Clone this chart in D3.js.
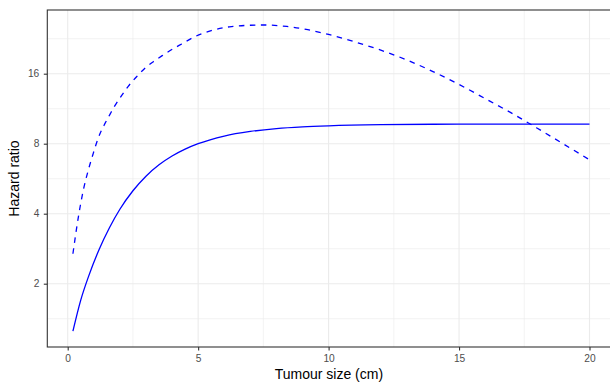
<!DOCTYPE html>
<html><head><meta charset="utf-8">
<script src="https://cdn.jsdelivr.net/npm/d3@7"></script>
<style>
body{margin:0;background:#fff}
text{font-family:"Liberation Sans",Arial,Helvetica,sans-serif}
</style>
</head><body><svg id="c" width="610" height="383"></svg>
<script>
// ---- data ----
const solidX  = [0.2, 0.5, 0.8, 1.2, 1.6, 2.0, 2.5, 3.0, 3.5, 4.0, 4.5, 5.0, 6, 7, 8, 9, 10, 12, 14, 16, 18, 20];
const solidHR = [1.25, 1.70, 2.15, 2.80, 3.48, 4.18, 5.02, 5.80, 6.49, 7.08, 7.58, 8.0, 8.63, 9.03, 9.29, 9.45, 9.55, 9.66, 9.70, 9.71, 9.72, 9.72];

const dashedX  = [0.2, 0.41, 0.6, 0.79, 0.98, 1.17, 1.43, 1.62, 1.81, 2.07, 2.32, 2.64, 2.96, 3.28, 3.66, 3.99, 4.37, 4.88, 5.5, 6.2, 7.0, 7.5, 8.4, 9.2, 10, 11, 12, 13, 14, 15, 16, 17, 18, 19, 20];
const dashedHR = [2.69, 3.88, 5.06, 6.16, 7.27, 8.46, 9.78, 10.70, 11.67, 12.90, 14.12, 15.53, 16.88, 18.01, 19.25, 20.32, 21.48, 23.1, 24.5, 25.46, 25.85, 25.92, 25.54, 24.73, 23.59, 21.93, 20.2, 18.33, 16.34, 14.38, 12.51, 10.85, 9.32, 7.98, 6.82];

const xTicks = [0, 5, 10, 15, 20];
const xMinor = [2.5, 7.5, 12.5, 17.5];
const yTicks = [2, 4, 8, 16];
const yMinor = [Math.SQRT2, 2 * Math.SQRT2, 4 * Math.SQRT2, 8 * Math.SQRT2, 16 * Math.SQRT2];

const xTitle = "Tumour size (cm)";
const yTitle = "Hazard ratio";

// ---- layout ----
const svg = d3.select("#c");
const P = {left: 47.3, right: 611.5, top: 10, bottom: 347};

const x = d3.scaleLinear().domain([0, 20]).range([67.7, 589.5]);
const y = d3.scaleLog().base(2).domain([2, 16]).range([283.7, 73.7]);

svg.append("rect").attr("width", 610).attr("height", 383).attr("fill", "#fff");

const grid = svg.append("g");
grid.selectAll(".xm").data(xMinor).join("line")
  .attr("x1", d => x(d)).attr("x2", d => x(d)).attr("y1", P.top).attr("y2", P.bottom)
  .attr("stroke", "#EBEBEB").attr("stroke-width", 0.6);
grid.selectAll(".ym").data(yMinor).join("line")
  .attr("y1", d => y(d)).attr("y2", d => y(d)).attr("x1", P.left).attr("x2", P.right)
  .attr("stroke", "#EBEBEB").attr("stroke-width", 0.6);
grid.selectAll(".xM").data(xTicks).join("line")
  .attr("x1", d => x(d)).attr("x2", d => x(d)).attr("y1", P.top).attr("y2", P.bottom)
  .attr("stroke", "#EBEBEB").attr("stroke-width", 1.1);
grid.selectAll(".yM").data(yTicks).join("line")
  .attr("y1", d => y(d)).attr("y2", d => y(d)).attr("x1", P.left).attr("x2", P.right)
  .attr("stroke", "#EBEBEB").attr("stroke-width", 1.1);

// lines
const solidData = solidX.map((v, i) => [v, solidHR[i]]);
const dashedData = dashedX.map((v, i) => [v, dashedHR[i]]);
const line = d3.line().x(d => x(d[0])).y(d => y(d[1])).curve(d3.curveMonotoneX);

svg.append("path").datum(dashedData).attr("d", line)
  .attr("fill", "none").attr("stroke", "#0000FF").attr("stroke-width", 1.3)
  .attr("stroke-dasharray", "5.5,5.5");
svg.append("path").datum(solidData).attr("d", line)
  .attr("fill", "none").attr("stroke", "#0000FF").attr("stroke-width", 1.3);

// panel border
svg.append("rect").attr("x", P.left).attr("y", P.top)
  .attr("width", P.right - P.left).attr("height", P.bottom - P.top)
  .attr("fill", "none").attr("stroke", "#333333").attr("stroke-width", 1.1);

// axes
const xAxis = svg.append("g").attr("transform", `translate(0,${P.bottom})`)
  .call(d3.axisBottom(x).tickValues(xTicks).tickSize(3.5).tickPadding(4.5).tickFormat(d3.format("d")));
const yAxis = svg.append("g").attr("transform", `translate(${P.left},0)`)
  .call(d3.axisLeft(y).tickValues(yTicks).tickSize(3.5).tickPadding(4.5).tickFormat(d3.format("d")));
[xAxis, yAxis].forEach(a => {
  a.select(".domain").remove();
  a.selectAll(".tick line").attr("stroke", "#333333").attr("stroke-width", 1.1);
  a.selectAll(".tick text").attr("fill", "#4D4D4D").attr("font-size", "10.2px")
    .attr("font-family", "'Liberation Sans',Arial,sans-serif");
});

// titles
svg.append("text").attr("x", (P.left + P.right) / 2 - 0.5).attr("y", 379.3)
  .attr("text-anchor", "middle").attr("font-size", "14px").attr("fill", "#000").text(xTitle);
svg.append("text").attr("transform", `translate(19.3,${(P.top + P.bottom) / 2}) rotate(-90)`)
  .attr("text-anchor", "middle").attr("font-size", "14px").attr("fill", "#000").text(yTitle);
</script>
</body></html>
